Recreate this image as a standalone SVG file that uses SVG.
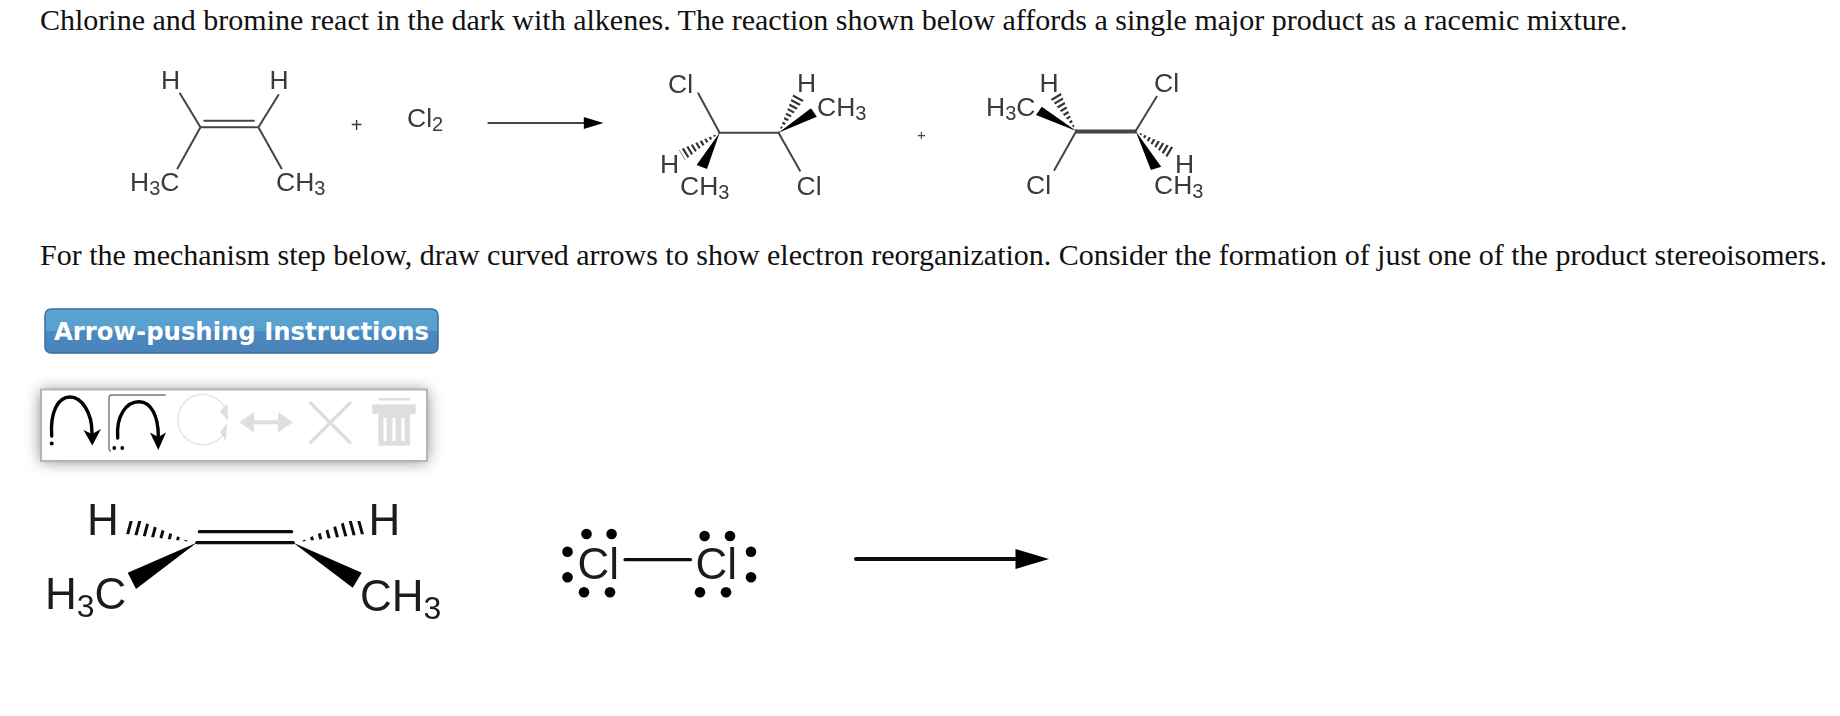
<svg xmlns="http://www.w3.org/2000/svg" width="1840" height="716" viewBox="0 0 1840 716">
<style>
.q{font-family:"Liberation Serif","Times New Roman",serif;font-size:30px;fill:#111}
.s{font-family:"Liberation Sans",Arial,sans-serif;font-size:26.5px;fill:#3a3a3a}
.l{font-family:"Liberation Sans",Arial,sans-serif;font-size:44px;fill:#1a1a1a}
.sub{font-size:20px}
.l .sub{font-size:32px}
.b{stroke:#444;stroke-width:2;fill:none;stroke-linecap:round}
.bl{stroke:#111;stroke-width:3.2;fill:none;stroke-linecap:round}
.w{fill:#000}
.ic{fill:none;stroke:#000;stroke-width:3.4;stroke-linecap:round}
.g{fill:#dedede;stroke:none}
.gl{fill:none;stroke:#e8e8e8;stroke-width:1.8}
</style>
<defs>
<linearGradient id="btn" x1="0" y1="0" x2="0" y2="1">
<stop offset="0" stop-color="#5ba5d2"/><stop offset="0.5" stop-color="#579fcd"/><stop offset="0.5" stop-color="#4c88c0"/><stop offset="1" stop-color="#4a82b8"/>
</linearGradient>
<filter id="shadow" x="-10%" y="-30%" width="120%" height="160%"><feGaussianBlur stdDeviation="8"/></filter>
<filter id="soft" x="-5%" y="-5%" width="110%" height="110%"><feGaussianBlur stdDeviation="0.55"/></filter>
<filter id="soft2" x="-5%" y="-5%" width="110%" height="110%"><feGaussianBlur stdDeviation="0.4"/></filter>
<clipPath id="h1"><polygon points="719.6,132.7 679,150 685,160"/></clipPath>
<clipPath id="h2"><polygon points="778.5,132.7 793.6,93.7 804,99.7"/></clipPath>
<clipPath id="h3"><polygon points="1076.3,131 1050,98 1060.4,92"/></clipPath>
<clipPath id="h4"><polygon points="1135.6,131 1175.1,148.2 1168.9,158.4"/></clipPath>
<clipPath id="h5"><polygon points="190,541.7 126,534 129,516"/></clipPath>
<clipPath id="h6"><polygon points="300,541.7 365,534 359,516"/></clipPath>
</defs>

<g id="question">
<text class="q" x="40" y="30">Chlorine and bromine react in the dark with alkenes. The reaction shown below affords a single major product as a racemic mixture.</text>
<text class="q" x="40" y="265">For the mechanism step below, draw curved arrows to show electron reorganization. Consider the formation of just one of the product stereoisomers.</text>
</g>

<g id="connectors" filter="url(#soft)">
<path class="b" d="M180,93.5L200.5,127.3L258.4,127.3L278.4,95M204.3,120.7H253.9M200.5,127.3L177.5,168.5M258.4,127.3L281.5,168.5"/>
<path class="b" d="M488.4,123H590" stroke-width="2.2"/>
<polygon class="w" points="583.8,117 603.4,123 583.8,129"/>
<path class="b" stroke-dasharray="2 1" d="M719.6,132.7H778.5"/>
<path class="b" d="M698.2,93.3L719.6,132.7M778.5,132.7L800,170.7"/>
<polygon class="w" points="719.6,132.7 696.6,165 707,169"/>
<polygon class="w" points="778.5,132.7 811,108.3 816.8,116.7"/>
<line clip-path="url(#h1)" x1="719.6" y1="132.7" x2="680" y2="157" stroke="#333" stroke-width="22" stroke-dasharray="2.2 2.6"/>
<line clip-path="url(#h2)" x1="778.5" y1="132.7" x2="799" y2="95" stroke="#333" stroke-width="22" stroke-dasharray="2.2 2.6"/>
<path class="b" d="M1076.3,130.5H1135.6M1076.3,132.5H1135.6" stroke-width="1.4"/>
<path class="b" d="M1076.3,131L1054.4,170M1135.6,131L1156.6,96.7"/>
<polygon class="w" points="1076.3,131 1041.8,106.7 1036,115"/>
<polygon class="w" points="1135.6,131 1150.9,170 1161.2,166.7"/>
<line clip-path="url(#h3)" x1="1076.3" y1="131" x2="1053" y2="92" stroke="#333" stroke-width="22" stroke-dasharray="2.2 2.6"/>
<line clip-path="url(#h4)" x1="1135.6" y1="131" x2="1175" y2="155" stroke="#333" stroke-width="22" stroke-dasharray="2.2 2.6"/>
</g>

<g id="connectors-lower" filter="url(#soft2)">
<path class="bl" d="M196.7,542.7H293.3M199.3,531.7H291.7"/>
<polygon class="w" points="196.7,542.7 127.7,572.7 136,589"/>
<polygon class="w" points="293.3,542.7 361.7,572.7 352.7,587.7"/>
<line clip-path="url(#h5)" x1="128.5" y1="525.2" x2="190" y2="541.7" stroke="#111" stroke-width="30" stroke-dasharray="3 5.3"/>
<line clip-path="url(#h6)" x1="361.5" y1="525" x2="300" y2="541.7" stroke="#111" stroke-width="30" stroke-dasharray="3 5.3"/>
<path class="bl" d="M625,559.7H690.5"/>
<path d="M856,559H1017" stroke="#111" stroke-width="4" stroke-linecap="round"/>
<polygon class="w" points="1015.5,549 1049,559 1015.5,569"/>
</g>

<g id="reactant-alkene" filter="url(#soft)">
<text class="s" x="161" y="89">H</text>
<text class="s" x="269.5" y="89">H</text>
<text class="s" x="130" y="191">H<tspan class="sub" dy="4">3</tspan><tspan dy="-4">C</tspan></text>
<text class="s" x="276" y="191">CH<tspan class="sub" dy="4">3</tspan></text>
</g>
<g id="plus-1" filter="url(#soft)"><text class="s" x="356.5" y="132" text-anchor="middle" style="font-size:20px">+</text></g>
<g id="reactant-cl2" filter="url(#soft)"><text class="s" x="407" y="127.3">Cl<tspan class="sub" dy="4">2</tspan></text></g>

<g id="product-1" filter="url(#soft)">
<text class="s" x="668" y="93">Cl</text>
<text class="s" x="797" y="92">H</text>
<text class="s" x="817" y="115.7">CH<tspan class="sub" dy="4">3</tspan></text>
<text class="s" x="660" y="172.7">H</text>
<text class="s" x="680" y="195">CH<tspan class="sub" dy="4">3</tspan></text>
<text class="s" x="796.5" y="194.5">Cl</text>
</g>
<g id="plus-2" filter="url(#soft)"><text x="921.3" y="139.5" text-anchor="middle" style="font-family:'Liberation Sans',sans-serif;font-size:15px;fill:#444">+</text></g>
<g id="product-2" filter="url(#soft)">
<text class="s" x="986" y="115.7">H<tspan class="sub" dy="4">3</tspan><tspan dy="-4">C</tspan></text>
<text class="s" x="1039.5" y="92.3">H</text>
<text class="s" x="1154" y="92.3">Cl</text>
<text class="s" x="1026" y="193.5">Cl</text>
<text class="s" x="1175" y="172.5">H</text>
<text class="s" x="1154" y="193.5">CH<tspan class="sub" dy="4">3</tspan></text>
</g>

<g id="button">
<rect x="45" y="309" width="393" height="44" rx="6" fill="url(#btn)" stroke="#3a6e9e" stroke-width="1.5"/>
<text x="54" y="340" textLength="375" lengthAdjust="spacingAndGlyphs" style="font-family:'DejaVu Sans',Verdana,sans-serif;font-weight:700;font-size:24px;fill:#fff">Arrow-pushing Instructions</text>
</g>

<g id="toolbar">
<rect x="41" y="391" width="386" height="70" fill="#000" opacity="0.5" filter="url(#shadow)"/>
<rect x="41" y="389.5" width="386" height="71.5" fill="#fff" stroke="#b5b5b5" stroke-width="2"/>
<path class="ic" d="M51.7,436C50,412 58,397 70,397C82,397 92,413 92,433"/>
<polygon class="w" points="83.5,430 92.3,445.5 101,429 92,434"/>
<circle class="w" cx="51.7" cy="443.5" r="2"/>
<path d="M165.7,395H112Q109,395 109,398V448Q109,451 111,451" fill="none" stroke="#777" stroke-width="1.4"/>
<path class="ic" d="M117.7,438C116,416 126,401.7 139,401.7C152,401.7 158.3,418 158.3,436"/>
<polygon class="w" points="150,432.5 158.3,450 166,432.5 158.3,437"/>
<circle class="w" cx="114.3" cy="448" r="1.9"/><circle class="w" cx="122.3" cy="448" r="1.9"/>
<path class="gl" d="M226,410A25,25 0 0 0 178,422A25,25 0 0 0 222,436"/>
<polygon class="g" points="220,411 227.5,404 228,421"/>
<polygon class="g" points="220,432 227,423 226,441"/>
<path d="M248,422.3H285" stroke="#dedede" stroke-width="4"/>
<polygon class="g" points="239.5,422.3 254,412 254,432.5"/><polygon class="g" points="293,422.3 278,412 278,432.5"/>
<path d="M310.5,403L350,442.5M350,403L310.5,442.5" stroke="#dedede" stroke-width="3.2" stroke-linecap="round"/>
<path class="g" d="M378.5,398H410V400.6H378.5ZM372.3,404.5H415.7V414H372.3ZM378.3,414H410V445.7H378.3Z"/>
<path d="M385,418V441M394,418V441M403,418V441" stroke="#fff" stroke-width="3"/>
</g>

<g id="alkene" filter="url(#soft2)">
<text class="l" x="87" y="535">H</text>
<text class="l" x="368.5" y="535">H</text>
<text class="l" x="45" y="609">H<tspan class="sub" dy="8">3</tspan><tspan dy="-8">C</tspan></text>
<text class="l" x="360" y="610.5">CH<tspan class="sub" dy="8">3</tspan></text>
</g>
<g id="chlorine" filter="url(#soft2)">
<text class="l" x="577.5" y="579.3">Cl</text>
<text class="l" x="695.5" y="579.3">Cl</text>
<circle class="w" cx="586.5" cy="534" r="5.3"/><circle class="w" cx="611.6" cy="534" r="5.3"/>
<circle class="w" cx="567.5" cy="551.7" r="5.3"/><circle class="w" cx="567.5" cy="577.3" r="5.3"/>
<circle class="w" cx="584" cy="592.3" r="5.3"/><circle class="w" cx="610" cy="592.3" r="5.3"/>
<circle class="w" cx="704.6" cy="536" r="5.3"/><circle class="w" cx="730" cy="536" r="5.3"/>
<circle class="w" cx="751" cy="551.7" r="5.3"/><circle class="w" cx="751" cy="577.3" r="5.3"/>
<circle class="w" cx="700" cy="592.3" r="5.3"/><circle class="w" cx="726" cy="592.3" r="5.3"/>
</g>
</svg>
